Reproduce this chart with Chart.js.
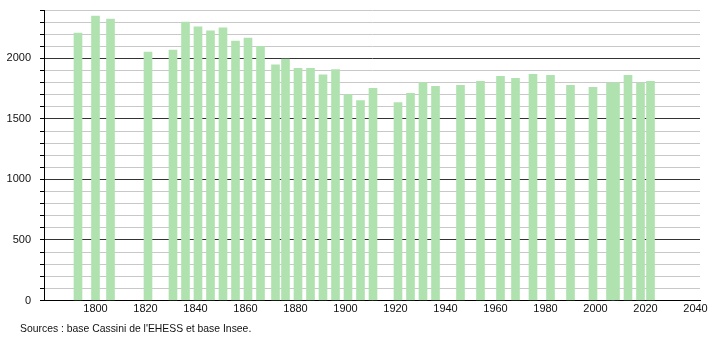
<!DOCTYPE html>
<html>
<head>
<meta charset="utf-8">
<script src="https://cdn.jsdelivr.net/npm/chart.js@4"></script>
<style>
  body { margin: 0; background: #fff; }
  #wrap { position: relative; width: 710px; height: 340px; }
  #src {
    position: absolute; left: 20px; top: 322px;
    font: 10.4px "Liberation Sans", Arial, sans-serif; line-height: 14px; color: #111;
  }
</style>
</head>
<body>
<div id="wrap">
  <canvas id="popChart" width="710" height="340"></canvas>
  <div id="src">Sources : base Cassini de l'EHESS et base Insee.</div>
</div>
<script>
// =============================================
// DONNÉES
// =============================================
const years = [1793, 1800, 1806, 1821, 1831, 1836, 1841, 1846, 1851, 1856, 1861, 1866,
  1872, 1876, 1881, 1886, 1891, 1896, 1901, 1906, 1911, 1921, 1926, 1931, 1936,
  1946, 1954, 1962, 1968, 1975, 1982, 1990, 1999, 2006, 2008, 2013, 2018, 2022];
const population = [2210, 2350, 2325, 2052, 2069, 2300, 2261, 2227, 2252, 2144, 2169, 2100,
  1947, 1994, 1919, 1919, 1864, 1908, 1702, 1652, 1752, 1635, 1711, 1800, 1769,
  1777, 1811, 1852, 1836, 1869, 1861, 1777, 1761, 1797, 1800, 1861, 1798, 1811];
const xTickYears = [1800, 1820, 1840, 1860, 1880, 1900, 1920, 1940, 1960, 1980, 2000, 2020, 2040];

const FONT = { family: '"Liberation Sans", Arial, sans-serif', size: 11 };

new Chart(document.getElementById('popChart'), {
  type: 'bar',
  data: {
    datasets: [{
      data: years.map((y, i) => ({ x: y, y: population[i] })),
      backgroundColor: 'rgb(176,226,176)',
      borderWidth: 0,
      barThickness: 8,
      grouped: false
    }]
  },
  options: {
    responsive: false,
    animation: false,
    devicePixelRatio: 1,
    layout: { padding: { top: 10, right: 10, left: 0, bottom: 0 } },
    plugins: { legend: { display: false }, tooltip: { enabled: false } },
    scales: {
      x: {
        type: 'linear',
        offset: false,
        min: 1779.4,
        max: 2041.8,
        grid: { display: false, drawTicks: false },
        border: { display: true, color: '#000', width: 1 },
        afterBuildTicks: s => { s.ticks = xTickYears.map(v => ({ value: v })); },
        afterFit: s => { s.height = 39.5; },
        ticks: { font: FONT, color: '#111', padding: 2, maxRotation: 0, autoSkip: false, callback: v => String(v) }
      },
      y: {
        min: 0,
        max: 2400,
        afterFit: s => { s.width = 44; s.paddingTop = 0; s.paddingBottom = 0; },
        border: { display: true, color: '#000', width: 1 },
        grid: {
          color: c => (c.tick && c.tick.value % 500 === 0 ? '#333' : '#c8c8c8'),
          tickColor: '#000',
          tickLength: 4,
          lineWidth: 1
        },
        ticks: {
          stepSize: 100,
          font: FONT,
          color: '#111',
          padding: 9,
          autoSkip: false,
          callback: v => (v % 500 === 0 ? String(v) : '')
        }
      }
    }
  }
});
</script>
</body>
</html>
